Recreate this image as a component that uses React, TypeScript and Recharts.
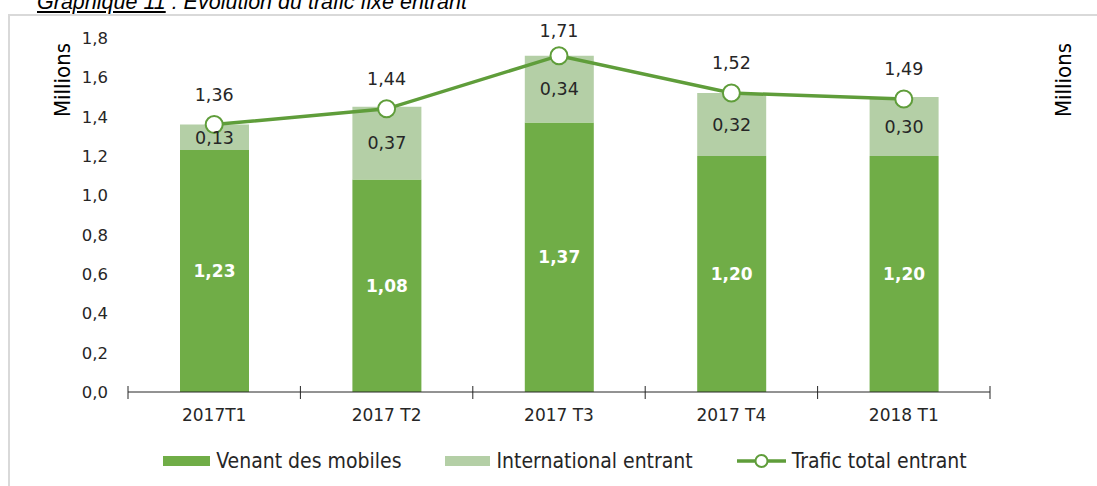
import { ComposedChart, Bar, Line, XAxis, YAxis, LabelList } from 'recharts';

const quarters = ['2017T1', '2017 T2', '2017 T3', '2017 T4', '2018 T1'];
const fromMobiles = [1.23, 1.08, 1.37, 1.2, 1.2];
const international = [0.13, 0.37, 0.34, 0.32, 0.3];
const totalIncoming = [1.36, 1.44, 1.71, 1.52, 1.49];
const yTicks = [0, 0.2, 0.4, 0.6, 0.8, 1.0, 1.2, 1.4, 1.6, 1.8];

const data = quarters.map((q, i) => ({
  quarter: q,
  mobiles: fromMobiles[i],
  intl: international[i],
  total: totalIncoming[i],
}));

const DARK_GREEN = '#70ad47';
const LIGHT_GREEN = '#b4cfa6';
const LINE_GREEN = '#5f9d3a';
const TEXT = '#262626';
const FONT = "'DejaVu Sans', Verdana, sans-serif";
const COND = "'DejaVu Sans Condensed', 'DejaVu Sans', sans-serif";

const fmt1 = (v: number) => v.toFixed(1).replace('.', ',');
const fmt2 = (v: number) => v.toFixed(2).replace('.', ',');

// ticks sit between categories, like excel, so draw them from the band offset
function QuarterTick(props: any) {
  const { x, y, payload, index } = props;
  const half = payload && payload.offset ? payload.offset : 86.2;
  return (
    <g>
      <line x1={x - half} x2={x - half} y1={y - 6} y2={y + 7} stroke={TEXT} strokeWidth={1} />
      {index === quarters.length - 1 && (
        <line x1={x + half} x2={x + half} y1={y - 6} y2={y + 7} stroke={TEXT} strokeWidth={1} />
      )}
      <text x={x} y={y + 29} textAnchor="middle" fill={TEXT} fontSize={17} fontFamily={FONT}>
        {payload.value}
      </text>
    </g>
  );
}

function TotalLabel(props: any) {
  const { x, y, value } = props;
  return (
    <text x={x} y={Math.max(y - 24, 37)} textAnchor="middle" fill={TEXT} fontSize={17.5} fontFamily={FONT}>
      {fmt2(value)}
    </text>
  );
}

function LegendRow() {
  const item = { display: 'flex', alignItems: 'center', gap: 6 } as const;
  return (
    <div style={{ position: 'absolute', left: 0, top: 449, width: 1130, display: 'flex', justifyContent: 'center', gap: 44, fontFamily: COND, fontSize: 21, color: TEXT }}>
      <div style={item}>
        <span style={{ width: 47, height: 10, background: DARK_GREEN, display: 'inline-block' }} />
        <span>Venant des mobiles</span>
      </div>
      <div style={item}>
        <span style={{ width: 45, height: 10, background: LIGHT_GREEN, display: 'inline-block' }} />
        <span>International entrant</span>
      </div>
      <div style={item}>
        <svg width={49} height={20}>
          <line x1={0} x2={49} y1={10} y2={10} stroke={LINE_GREEN} strokeWidth={3.5} />
          <circle cx={24.5} cy={10} r={6} fill="#fff" stroke={LINE_GREEN} strokeWidth={2} />
        </svg>
        <span>Trafic total entrant</span>
      </div>
    </div>
  );
}

export default function App() {
  return (
    <div style={{ position: 'absolute', left: 0, top: 0, width: 1097, height: 486, overflow: 'hidden', background: '#fff' }}>
      <div style={{ position: 'absolute', left: 37, top: -8, fontFamily: "'Liberation Sans', Arial, sans-serif", fontStyle: 'italic', fontSize: 21.5, lineHeight: '20px', color: '#000', whiteSpace: 'nowrap' }}>
        <span style={{ textDecoration: 'underline' }}>Graphique 11</span> : Evolution du trafic fixe entrant
      </div>
      <div style={{ position: 'absolute', left: 8, top: 14, width: 1200, height: 600, borderTop: '2px solid #d9d9d9', borderLeft: '2px solid #d9d9d9' }} />

      <div style={{ position: 'absolute', left: 62, top: 80, transform: 'translate(-50%, -50%) rotate(-90deg)', fontFamily: COND, fontSize: 22, color: '#000', whiteSpace: 'nowrap' }}>
        Millions
      </div>
      <div style={{ position: 'absolute', left: 1063, top: 80, transform: 'translate(-50%, -50%) rotate(-90deg)', fontFamily: COND, fontSize: 22, color: '#000', whiteSpace: 'nowrap' }}>
        Millions
      </div>

      <div style={{ position: 'absolute', left: 0, top: 0 }}>
        <ComposedChart width={1097} height={486} data={data} margin={{ top: 38, right: 47, left: 68, bottom: 64 }}>
          <XAxis
            dataKey="quarter"
            xAxisId="q"
            height={30}
            axisLine={{ stroke: TEXT, strokeWidth: 1 }}
            tickLine={false}
            tickSize={0}
            tickMargin={0}
            tick={<QuarterTick />}
            interval={0}
          />
          <YAxis
            yAxisId="left"
            width={60}
            domain={[0, 1.8]}
            ticks={yTicks}
            tickFormatter={fmt1}
            axisLine={false}
            tickLine={false}
            tickSize={0}
            tickMargin={20}
            tick={{ fill: TEXT, fontSize: 16.5, fontFamily: FONT }}
          />
          <YAxis
            yAxisId="right"
            orientation="right"
            width={60}
            domain={[0, 1.8]}
            ticks={yTicks}
            tickFormatter={fmt1}
            axisLine={false}
            tickLine={false}
            tickSize={0}
            tickMargin={23}
            tick={{ fill: TEXT, fontSize: 16.5, fontFamily: FONT, textAnchor: 'start' }}
          />
          <Bar dataKey="mobiles" xAxisId="q" yAxisId="left" stackId="s" fill={DARK_GREEN} barSize={69} isAnimationActive={false}>
            <LabelList dataKey="mobiles" position="center" formatter={(v: any) => fmt2(Number(v))} fill="#fff" fontWeight="bold" fontSize={17} fontFamily={FONT} />
          </Bar>
          <Bar dataKey="intl" xAxisId="q" yAxisId="left" stackId="s" fill={LIGHT_GREEN} barSize={69} isAnimationActive={false}>
            <LabelList dataKey="intl" position="center" formatter={(v: any) => fmt2(Number(v))} fill={TEXT} fontSize={17.5} fontFamily={FONT} />
          </Bar>
          <Line
            dataKey="total"
            xAxisId="q"
            yAxisId="left"
            stroke={LINE_GREEN}
            strokeWidth={3.5}
            dot={{ r: 8.5, fill: '#fff', stroke: LINE_GREEN, strokeWidth: 2 }}
            isAnimationActive={false}
          >
            <LabelList dataKey="total" content={<TotalLabel />} />
          </Line>
        </ComposedChart>
      </div>

      <LegendRow />
    </div>
  );
}
